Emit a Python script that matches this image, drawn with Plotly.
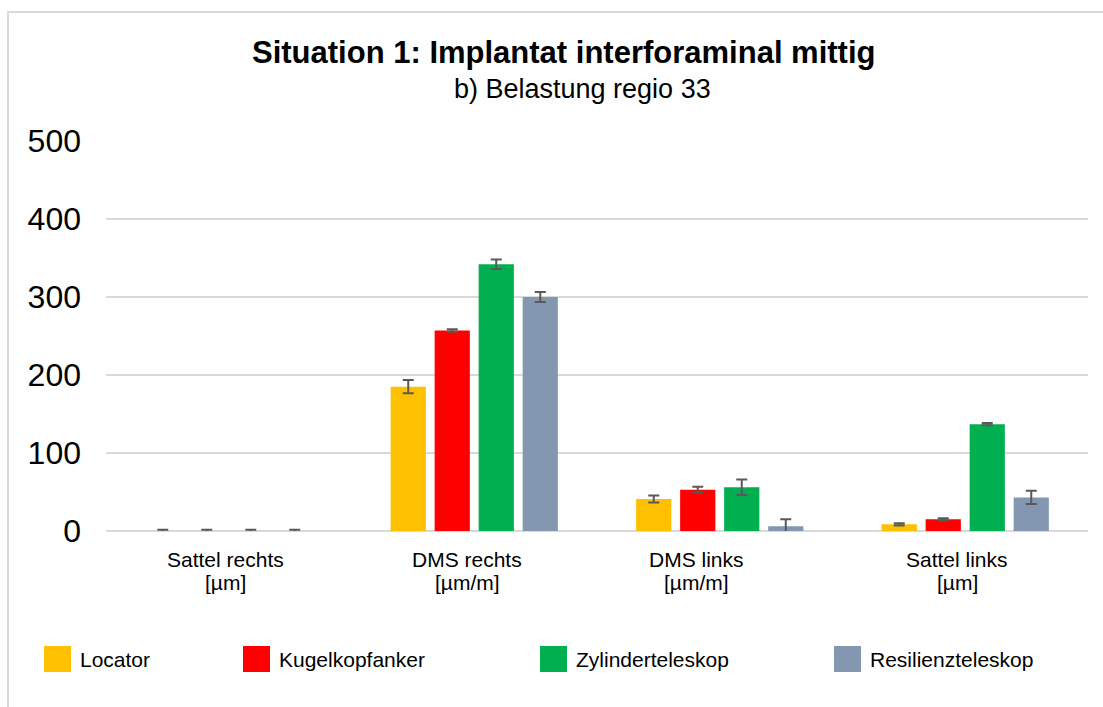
import plotly.graph_objects as go

# ---------------- data ----------------
category_names = ["Sattel rechts", "DMS rechts", "DMS links", "Sattel links"]
category_units = ["[µm]", "[µm/m]", "[µm/m]", "[µm]"]
categories = [n + " " + u for n, u in zip(category_names, category_units)]

series_names = ["Locator", "Kugelkopfanker", "Zylinderteleskop", "Resilienzteleskop"]
series_colors = ["#FFC000", "#FF0000", "#00B050", "#8497B0"]

locator = [0, 185, 41, 8.5]
locator_err = [1.5, 8.5, 4.5, 1.5]
kugelkopf = [0, 257, 53, 15]
kugelkopf_err = [1.5, 1.5, 3.7, 1.5]
zylinder = [0, 342, 56, 137]
zylinder_err = [1.5, 6, 10, 1.5]
resilienz = [0, 300, 6, 43]
resilienz_err = [1.5, 6.5, 9, 8.5]

values = [locator, kugelkopf, zylinder, resilienz]
errors = [locator_err, kugelkopf_err, zylinder_err, resilienz_err]

y_tickvals = [0, 100, 200, 300, 400, 500]

title_text = "Situation 1: Implantat interforaminal mittig"
subtitle_text = "b) Belastung regio 33"

# ---------------- figure ----------------
W, H = 1103, 707
L, R, T, B = 106, 15, 141, 176
pw, ph = W - L - R, H - T - B

def px_x(px):
    return (px - L) / pw

def px_y(py):
    return (H - B - py) / ph

FONT = "Liberation Sans, Arial, sans-serif"

fig = go.Figure()
for name, color, vals, errs in zip(series_names, series_colors, values, errors):
    fig.add_trace(go.Bar(
        name=name, x=categories, y=vals,
        marker=dict(color=color, line=dict(width=0)),
        error_y=dict(type="data", array=errs, visible=True,
                     color="#595959", thickness=2, width=5.5),
        showlegend=False,
    ))

shapes = []
annotations = []

# category labels (two lines each), placed at the category with Excel-like offsets
label_shift = [-3, -7, -23, -8]
for cat, nm, un, sh in zip(categories, category_names, category_units, label_shift):
    annotations.append(dict(text=nm, xref="x", yref="paper", x=cat, y=px_y(559), xshift=sh,
                            xanchor="center", yanchor="middle", showarrow=False,
                            font=dict(family=FONT, size=21, color="#000000")))
    annotations.append(dict(text=un, xref="x", yref="paper", x=cat, y=px_y(582), xshift=sh,
                            xanchor="center", yanchor="middle", showarrow=False,
                            font=dict(family=FONT, size=21, color="#000000")))

# legend drawn as swatches + labels
legend_x = [44, 243, 540, 834]
for name, color, lx in zip(series_names, series_colors, legend_x):
    shapes.append(dict(type="rect", xref="paper", yref="paper",
                       x0=px_x(lx), x1=px_x(lx + 27), y0=px_y(672), y1=px_y(646),
                       fillcolor=color, line=dict(width=0)))
    annotations.append(dict(text=name, xref="paper", yref="paper",
                            x=px_x(lx + 34), y=px_y(659), xanchor="left", yanchor="middle",
                            showarrow=False, font=dict(family=FONT, size=21, color="#000000")))

# outer border
shapes.append(dict(type="rect", xref="paper", yref="paper",
                   x0=px_x(8), x1=px_x(1150), y0=px_y(760), y1=px_y(12),
                   line=dict(color="#D9D9D9", width=2), fillcolor="rgba(0,0,0,0)", layer="below"))

annotations.append(dict(text="<b>" + title_text + "</b>", xref="paper", yref="paper",
                        x=px_x(563), y=px_y(53), xanchor="center", yanchor="middle", showarrow=False,
                        font=dict(family=FONT, size=31, color="#000000")))
annotations.append(dict(text=subtitle_text, xref="paper", yref="paper",
                        x=px_x(582), y=px_y(89), xanchor="center", yanchor="middle", showarrow=False,
                        font=dict(family=FONT, size=27, color="#000000")))

fig.update_layout(
    width=W, height=H,
    margin=dict(l=L, r=R, t=T, b=B),
    paper_bgcolor="white", plot_bgcolor="white",
    barmode="group", bargap=0.283, bargroupgap=0.2,
    shapes=shapes, annotations=annotations,
    showlegend=False,
    xaxis=dict(showgrid=False, showline=False, ticks="", zeroline=False, showticklabels=False),
    yaxis=dict(range=[0, 500], tickvals=y_tickvals, showgrid=True, gridcolor="#D9D9D9", gridwidth=2,
               zeroline=True, zerolinecolor="#D9D9D9", zerolinewidth=2, showline=False, ticks="",
               ticklabelstandoff=24,
               tickfont=dict(family=FONT, size=32, color="#000000")),
)

fig.write_html("out.html", config={"displayModeBar": False},
               post_script="document.body.style.margin='0';document.body.style.overflow='hidden';")
